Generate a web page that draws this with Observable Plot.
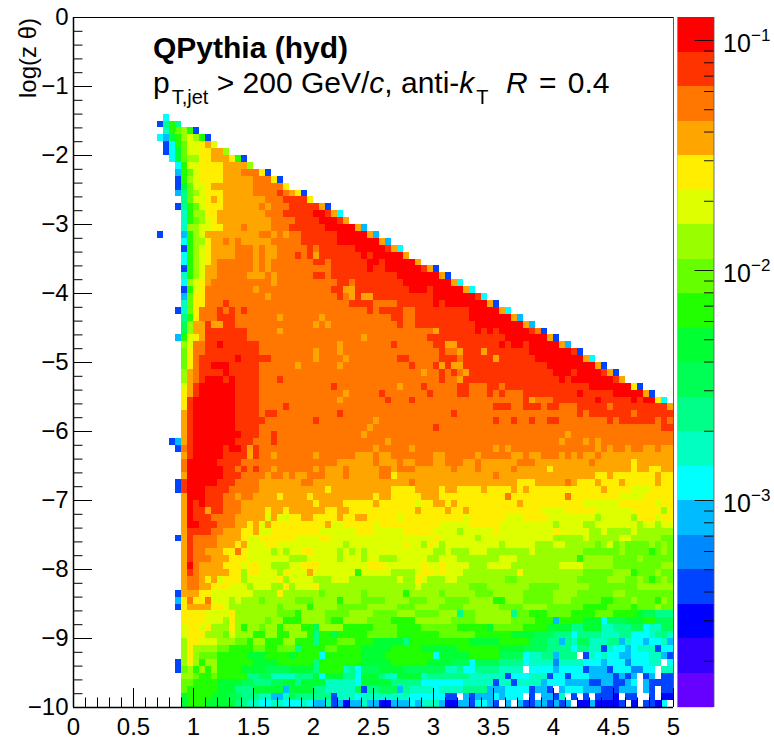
<!DOCTYPE html>
<html><head><meta charset="utf-8">
<script src="https://cdn.jsdelivr.net/npm/d3@7"></script>
<script src="https://cdn.jsdelivr.net/npm/@observablehq/plot@0.6"></script>
<style>
html,body{margin:0;padding:0;background:#fff}
#c{position:relative;width:774px;height:741px;overflow:hidden;font-family:"Liberation Sans",Arial,sans-serif;color:#000}
#c svg{position:absolute;left:0;top:0;background:transparent;max-width:none}
.t{position:absolute;white-space:nowrap;line-height:1}
.t sub{font-size:20px;vertical-align:baseline;position:relative;top:11px;margin:0 0 0 2px}
.t .g{margin-left:9px}
.t .e{margin:0 3px}
</style></head><body><div id="c"></div>
<script>
const levelCodes = "abcdefghijklmnopqrst";
const levelColors = ["#6600ff","#3300ff","#0000ff","#0044ff","#0088ff","#00bbff","#00ffff","#00ffc0","#00ff88","#00ff55","#00ff33","#22ff00","#66ff00","#99ff00","#ddff00","#ffee00","#ffa500","#ff7700","#ff3300","#ff0000"];
const firstRow = 14;
const rowStart = [15,14,15,14,15,15,16,17,17,17,17,17,18,17,18,18,18,14,18,18,
18,18,18,18,18,18,18,18,17,18,18,18,17,18,18,18,18,18,18,18,
18,18,18,18,18,18,18,16,17,18,18,18,18,17,17,18,18,18,18,18,
18,17,18,18,18,18,18,18,18,17,17,17,18,18,18,18,18,18,18,17,
17,18,18,18,18,18];
const rowRuns = [
"g","dili","hlmnld","gfklnonld","dglmo2pqo","dgkmo2p2q2n","gkmn2p2q3pld","glo2p4q4n",
"flmop4q3r3pd","dlnop4q5r3pd","dkmo2pq7r5p","fimnop3q5r4srqpd","imo2pqpq7r3s4p",
"dilmop3q6rqr3s5qd","hln2p2q8r3s5t2sqg","hlmnopq9r4s4t3sq","hn2o2p2q3rq4r3s6t5qf",
"d_3flnoq9r2qrqr2s6t5qf","gln2pq2rqrq5r5s6t7qf","dlnopq4r3qrq2r5srs6t5sqg",
"glnopq4r3qrq2r3srsqs7tst5q","glnopqr6qrqr7s2rs6t2st5q","dlnoq2r6qrqr10s6ts2t6sqd",
"hlnoq2r5q3rqr6s2rs11t7qd","gnopqr10qr10s2rs8t8qg","dlopr8qr12s2q2s9t3st5qg",
"fmppr10qr11srqsq2s10t7sg","hmppr3sr20s4r4s6tst7qd","dhmpr3srsrsr20srs4r2s9t5qg",
"ilpr2rs3r7qr6qr11s2r2s9t7qf","jnq2sq2s2r13qrqr11sr2s10t8qf","jnq2s7r5qr25qs6tstst5srd",
"flopqs7r19qr10s13t7qd","nor2s2ts6r13qr8sr6s2q2s7tst2st5qf","mpr2s9r9qr3qr16sr2qs3qs7t7sd",
"mprs6ts5r7qr4qr8s2r5s3rs5qs6t8qg","mprs2t3s5r6qr6qr11sr3sqsq2s14t8qd","nqrs4ts5r27qr2srsrqs14t3st4sqd",
"nqrst3sts4r3sr26sr2qs16tst7sq","oqst6s4r12sr10qr3sr5s2r3s2rs14t7pd","pqst6s4r14qr5sr7sr4s2r3srsr3s9ts5t5qd",
"pst7s4r13qr7sr3sr18sqr3s7ts5tst2pg","pst7s4r4sr34s3r2s3rs2r3s5rs9q","qst7s4rs2r10sr18sr20srs7rs6",
"qst7s5r8sr9qr19sr2sr2sr2s2r8srs6rsr","qst7s4r18qr10sr37s2","qst8s3r2sr14qr33qr17",
"dfqst7s3r3sr18qr28qr3qrqr12","drst5st2sqsr19qr5qr13qrqr14qrqr2qr2q2rq2",
"qst5s4qsr2qr6qr6q3rq2r7q2r5qr5q2rq2r3qrqrq2rq12","rt5s4r16q6rq3rq2r3q2r3q2rq6r3q9rq6pq6",
"rt6s2rsrsr2qr6qrq3rq5r2qr3q6rq3rq5rq5pq13pq2p2q2","qt6s3r4qr2qrq2r3q3rq5r2pq16rq16p2qp7qp2",
"dst5s3r4q7r2q16rq17p3q5rqp3qp3qp5qp2","dst3s4r5q11pq10p4q4pq2p4qp4qpqp12qp4o3p4",
"qt3s3r2qr2q4pq4pq10pq2p5q3p11rp9rp8o4p5","qtsts3r3q12pq4p5qp6op2q2pqp10qp10o6p6op2",
"qts2qs2r3q4pq2pq6p2q2p11qp4qp2qp12o4p5o6p5np","qts3r4q5oqo2p2q2p4qp2q2p5op10op6o3p4o8no5np3op2",
"qt2s3r3q2pqoqp9qo2p5op10o5p5o9no4n2o7no2no2","qs4r2q3p2qo2p8o6p3o5p5o4no5po9po5n2on4on6",
"dqsr4q4po2p6o4p2o17po6no12n5on5o2n5m2","qsr4q3pqo3p2o11no9po2npono9no5n3o2n5mnomnm4nmnm",
"qsr2q3p2rpo4nono2p2o4nonono11n2on3o3n7on8m6nm4lmnm",
"qsr3q3p3o7n3o5no3no2n3o5n2o3n7o3n10ln5m4nm5","qtrq4p3op2o2n3o2p3o8p3o6po2po4n3o4n8o4n5m5m3n2",
"qsrq5p2np2o3npo3qo7lo5n4op2opo3n9pn10m5n3lm3nm2","qr2qpqop3no5pno4n3o3n8on2pon3o2n8m2n10m5n3m2nmlmnm",
"qr2q2p3o3no3n2pno3pn10n6on8m3n7m5n5m8n6","dq3p2o7n4pn6mn6mn6ln5mn5m3n5m5n4m6n2m8",
"fprp2ro3non3mn5m3n4ln3m4n4m3n3m4n4l2n3m5n3m5l2m3nm3lnm",
"dpq4p2on8mn4ln4m5n5m3n4m4n6m4n4m6l4m4lm3nm2","p4o4pn7m3ln4m4n4m4n3m4n3im2n6im2l3m4l4m3l4kj2i3",
"p4o3npn5mn2l3n4ml2n4m4l4n6m4n6m4l3fl4k3gj3k3l2j3","op2opn3pnln2mn2ln3l2jn4l5m4l4m6l5km5l4k4i2k3h2i3j2gh2j2",
"op3n3mon3l2n2l2n3lil2jl5m5l7m6l6k4j3i3gi4h3i2g3hi2h","np2o3n3m2ln2l3n2l3il3m3l3k5il10k5l5j3i2fihj2h3i2fhg2fg2hf",
"npn4m2l4m2l2m3il4m2l4k5l5k6l7k4j4i4gi2h2dhg2fgh3dg2","npnm3l5k3l4kl4gl6k4l8gk5l5j4gh2i2fi3_dhghg2f2g3h2fd",
"dnpnln2l6k4l6il7k5l6k4j3gj4i4gh4eh4g3fg3eg3h2_g","dmnlnlnl4k4j4k4il4higj3k4j7h2ig2i4h4_g4fg4df3dg3e2g2_h2",
"n2ml2ml5i2j2h4i3kgk3i2gk3ih2k4hi7h6dg3h3dg2dg3f4dfdf_df_d2","m2l4k4j2i3j2k2ik4h5gk5i5g7h5dh2dh4fg3f4d2f2d2fg_fd4",
"ml5k3i3k5fk4i2h5jdi2j3fih4gh4i4f3g4df2d_fg3ff2d3f3_fd_d2","kl4k3j2i3h2f2hji6dh3gh3h5g6d2_fdf3gfg3_d_f2dh_d_d_d3c_d2_2d_c2",
"kl3k5i2h2g2h2g3hgf2hdfcf2hf2c2f3gfh3fc2f2dg2fd_f_fd2f2dfdf_c2fc4d_c_d2cg_"
];
const binW = 0.05, binH = 0.1, logLow = -3.9, logStep = 0.15;
const xTicks = [0,0.5,1,1.5,2,2.5,3,3.5,4,4.5,5];
const yTicks = [0,-1,-2,-3,-4,-5,-6,-7,-8,-9,-10];
const xMinor = d3.range(0,51).map(d=>d/10).filter(d=>Math.round(d*10)%5!==0);
const yMinor = d3.range(0,51).map(d=>-d/5).filter(d=>Math.round(d*5)%5!==0);
const colorDecades = [1e-1,1e-2,1e-3];
const decadeLabels = ["−1","−2","−3"];
const colorMinor = [2e-4,3e-4,4e-4,5e-4,6e-4,7e-4,8e-4,9e-4,2e-3,3e-3,4e-3,5e-3,6e-3,7e-3,8e-3,9e-3,2e-2,3e-2,4e-2,5e-2,6e-2,7e-2,8e-2,9e-2];

const levelValue = k => Math.pow(10, logLow + logStep*(k+0.5));
const thresholds = d3.range(1,20).map(k=>Math.pow(10, logLow + logStep*k));
const colorScale = {type:"threshold", domain:thresholds, range:levelColors};

const cells = [];
rowRuns.forEach((s,i)=>{
  let col = rowStart[i];
  for (const m of s.matchAll(/([a-t_])(\d*)/g)) {
    const n = m[2] ? +m[2] : 1;
    if (m[1] !== "_") for (let j=0;j<n && col+j<100;j++)
      cells.push({col:col+j,row:firstRow+i,level:levelCodes.indexOf(m[1])});
    col += n;
  }
});
const tickLenX = 0.158, tickLenY = 0.276;
const main = Plot.plot({
  width:774,height:741,marginLeft:73,marginRight:101,marginTop:17,marginBottom:34,
  x:{domain:[0,5],axis:null},y:{domain:[-10,0],axis:null},
  color:colorScale,style:{background:"transparent"},
  marks:[
    Plot.rect(cells,{x1:d=>d.col*binW,x2:d=>(d.col+1)*binW,y1:d=>-d.row*binH,y2:d=>-(d.row+1)*binH,fill:d=>levelValue(d.level),shapeRendering:"crispEdges",inset:0}),
    Plot.ruleX([5],{stroke:"#333",strokeWidth:0.8}),
    Plot.ruleY([0],{stroke:"#000",strokeWidth:1}),
    Plot.ruleX(xTicks,{y1:-10,y2:-10+tickLenY,stroke:"#000",strokeWidth:1}),
    Plot.ruleX(xMinor,{y1:-10,y2:-10+tickLenY/2,stroke:"#000",strokeWidth:1}),
    Plot.ruleY(yTicks,{x1:0,x2:tickLenX,stroke:"#000",strokeWidth:1}),
    Plot.ruleY(yMinor,{x1:0,x2:tickLenX/2,stroke:"#000",strokeWidth:1}),
    Plot.ruleX([0],{stroke:"#000",strokeWidth:1.5}),
    Plot.ruleY([-10],{stroke:"#000",strokeWidth:1.5}),
    Plot.axisX({anchor:"bottom",ticks:xTicks,tickSize:0,tickPadding:10,fontSize:24,tickFormat:d=>String(d),fill:"#000",label:null}),
    Plot.axisY({anchor:"left",ticks:yTicks,tickSize:0,tickPadding:5,fontSize:24,tickFormat:d=>d===0?"0":"−"+(-d),fill:"#000",label:null})
  ]
});
main.style.fontFamily='"Liberation Sans",Arial,sans-serif';
const bar = Plot.plot({
  width:774,height:741,marginLeft:677,marginRight:60.5,marginTop:17,marginBottom:34,
  x:{domain:[0,1],axis:null},y:{type:"log",domain:[Math.pow(10,logLow),Math.pow(10,logLow+20*logStep)],axis:null},
  color:colorScale,style:{background:"transparent"},
  marks:[
    Plot.rect(d3.range(20),{x1:0,x2:1,y1:k=>Math.pow(10,logLow+logStep*k),y2:k=>Math.pow(10,logLow+logStep*(k+1)),fill:k=>levelValue(k),shapeRendering:"crispEdges"}),
    Plot.ruleY(colorDecades,{x1:0.48,x2:1,stroke:"#000",strokeWidth:0.9}),
    Plot.ruleY(colorMinor,{x1:0.74,x2:1,stroke:"#000",strokeWidth:0.9}),
    Plot.ruleX([1],{stroke:"#555",strokeWidth:0.8}),
    Plot.ruleX([0],{stroke:"#bbb",strokeWidth:0.6}),
    Plot.ruleY([Math.pow(10,logLow)],{x1:0,x2:1,stroke:"#bbb",strokeWidth:0.6}),
    Plot.text(colorDecades,{x:1,y:d=>d,text:()=>"10",dx:9,dy:3,textAnchor:"start",fontSize:25,fill:"#000"}),
    Plot.text(colorDecades,{x:1,y:d=>d,text:(d,i)=>decadeLabels[i],dx:37,dy:-5,textAnchor:"start",fontSize:17,fill:"#000"})
  ]
});
bar.style.fontFamily='"Liberation Sans",Arial,sans-serif';
const c = document.getElementById("c");
c.append(main,bar);
const add=(html,css)=>{const d=document.createElement("div");d.className="t";d.innerHTML=html;d.style.cssText=css;c.append(d);};
add("QPythia (hyd)","left:153px;top:33px;font-size:30px;font-weight:bold");
add('p<sub>T,jet</sub> &gt; 200 GeV/<i>c</i>, anti-<i>k</i><sub>T</sub> <i class="g">R</i><span class="e"> = </span>0.4',"left:153px;top:68px;font-size:30px");
add("log(z θ)","left:16px;top:98px;font-size:24px;transform-origin:0 0;transform:rotate(-90deg)");
</script></body></html>
